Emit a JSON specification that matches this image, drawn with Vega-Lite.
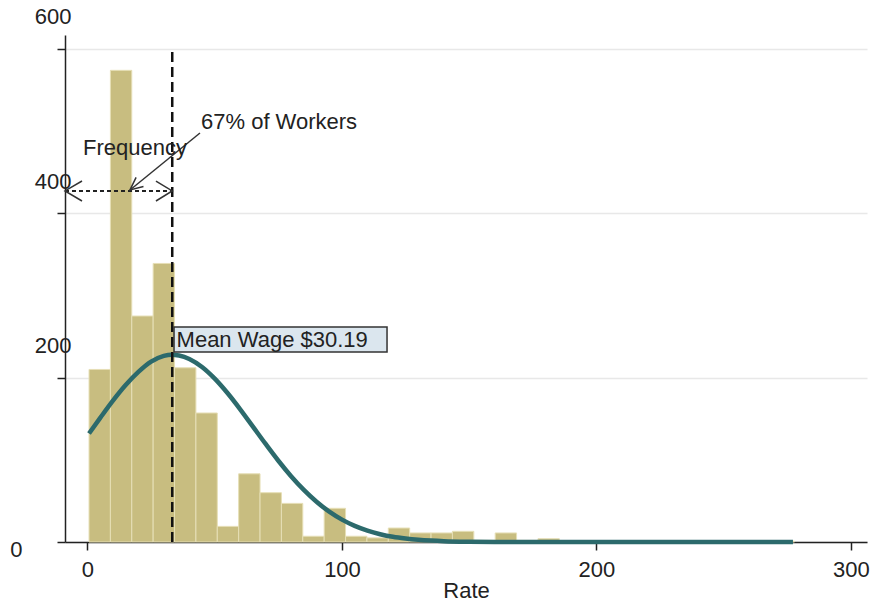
{
  "$schema": "https://vega.github.io/schema/vega-lite/v6.json",
  "autosize": "none",
  "width": 802,
  "height": 507,
  "padding": {"left": 65, "top": 35, "right": 4, "bottom": 64},
  "background": "white",
  "config": {
    "view": {"stroke": null},
    "font": "Liberation Sans",
    "axis": {"labelFont": "Liberation Sans", "titleFont": "Liberation Sans", "labelColor": "#222", "titleColor": "#222", "domainColor": "#222", "tickColor": "#222", "domainWidth": 1.5, "tickWidth": 1.5}
  },
  "datasets": {
    "hist": [
      {"lo": 0.6, "hi": 9.0, "count": 210},
      {"lo": 9.0, "hi": 17.4, "count": 574},
      {"lo": 17.4, "hi": 25.8, "count": 275},
      {"lo": 25.8, "hi": 34.2, "count": 339},
      {"lo": 34.2, "hi": 42.6, "count": 212},
      {"lo": 42.6, "hi": 51.0, "count": 157},
      {"lo": 51.0, "hi": 59.4, "count": 19},
      {"lo": 59.4, "hi": 67.8, "count": 83},
      {"lo": 67.8, "hi": 76.2, "count": 60},
      {"lo": 76.2, "hi": 84.6, "count": 47},
      {"lo": 84.6, "hi": 93.0, "count": 7},
      {"lo": 93.0, "hi": 101.4, "count": 41},
      {"lo": 101.4, "hi": 109.8, "count": 7},
      {"lo": 109.8, "hi": 118.2, "count": 5},
      {"lo": 118.2, "hi": 126.6, "count": 17},
      {"lo": 126.6, "hi": 135.0, "count": 11},
      {"lo": 135.0, "hi": 143.4, "count": 11},
      {"lo": 143.4, "hi": 151.8, "count": 13},
      {"lo": 151.8, "hi": 160.2, "count": 2},
      {"lo": 160.2, "hi": 168.6, "count": 11},
      {"lo": 168.6, "hi": 177.0, "count": 2},
      {"lo": 177.0, "hi": 185.4, "count": 4},
      {"lo": 185.4, "hi": 193.8, "count": 1},
      {"lo": 193.8, "hi": 202.2, "count": 1},
      {"lo": 210.6, "hi": 219.0, "count": 1},
      {"lo": 227.4, "hi": 235.8, "count": 1},
      {"lo": 252.6, "hi": 261.0, "count": 1},
      {"lo": 269.4, "hi": 277.8, "count": 1}
    ],
    "curve": [
      {"rate": 0.6, "freq": 132},
      {"rate": 5, "freq": 151},
      {"rate": 10, "freq": 172},
      {"rate": 15, "freq": 191},
      {"rate": 20, "freq": 207},
      {"rate": 25, "freq": 219.5},
      {"rate": 30, "freq": 226.5},
      {"rate": 33, "freq": 228.0},
      {"rate": 36, "freq": 227.0},
      {"rate": 40, "freq": 222.8},
      {"rate": 45, "freq": 213.0},
      {"rate": 50, "freq": 198.8},
      {"rate": 55, "freq": 181.3},
      {"rate": 60, "freq": 161.5},
      {"rate": 65, "freq": 140.4},
      {"rate": 70, "freq": 119.3},
      {"rate": 75, "freq": 98.9},
      {"rate": 80, "freq": 80.1},
      {"rate": 85, "freq": 63.4},
      {"rate": 90, "freq": 49.0},
      {"rate": 95, "freq": 36.9},
      {"rate": 100, "freq": 27.2},
      {"rate": 105, "freq": 19.6},
      {"rate": 110, "freq": 13.8},
      {"rate": 115, "freq": 9.5},
      {"rate": 120, "freq": 6.3},
      {"rate": 125, "freq": 4.2},
      {"rate": 130, "freq": 2.7},
      {"rate": 135, "freq": 1.7},
      {"rate": 140, "freq": 1.0},
      {"rate": 150, "freq": 0.35},
      {"rate": 160, "freq": 0.1},
      {"rate": 180, "freq": 0},
      {"rate": 277.2, "freq": 0}
    ],
    "arrows": [
      {"seg": "lh", "ord": 1, "x": -2.16, "y": 439.3},
      {"seg": "lh", "ord": 2, "x": -8.84, "y": 427.2},
      {"seg": "lh", "ord": 3, "x": -2.16, "y": 415.0},
      {"seg": "rh", "ord": 1, "x": 26.9, "y": 439.3},
      {"seg": "rh", "ord": 2, "x": 33.3, "y": 427.2},
      {"seg": "rh", "ord": 3, "x": 26.9, "y": 415.0},
      {"seg": "ps", "ord": 1, "x": 44.2, "y": 497.7},
      {"seg": "ps", "ord": 2, "x": 16.7, "y": 428.4},
      {"seg": "ph", "ord": 1, "x": 22.0, "y": 432.6},
      {"seg": "ph", "ord": 2, "x": 16.7, "y": 428.4},
      {"seg": "ph", "ord": 3, "x": 19.1, "y": 443.7}
    ],
    "labels": [
      {"x": -1.77, "y": 471.0, "label": "Frequency"},
      {"x": 44.6, "y": 502.6, "label": "67% of Workers"},
      {"x": 35.0, "y": 237.3, "label": "Mean Wage $30.19"}
    ]
  },
  "layer": [
    {
      "data": {"name": "hist"},
      "mark": {"type": "bar", "color": "#c8bd80", "stroke": "#e6dfb6", "strokeWidth": 1},
      "encoding": {
        "x": {"field": "lo", "type": "quantitative",
          "scale": {"domain": [-8.84, 306.3], "nice": false, "zero": false},
          "axis": {"values": [0, 100, 200, 300], "title": "Rate", "titleFontSize": 22, "titleFontWeight": "normal", "titlePadding": 0, "labelFontSize": 22, "tickSize": 8, "labelPadding": 9, "grid": false, "labelFlush": false}},
        "x2": {"field": "hi"},
        "y": {"field": "count", "type": "quantitative",
          "scale": {"domain": [0, 617], "nice": false},
          "axis": {"values": [0, 200, 400, 600], "title": null, "labelFontSize": 22, "tickSize": 8, "grid": true, "gridColor": "#e8e8e8", "gridWidth": 1.5,
            "labelOffset": {"condition": {"test": "datum.value == 0", "value": 7}, "value": -32},
            "labelPadding": {"condition": {"test": "datum.value == 0", "value": 35}, "value": -14}}},
        "y2": {"datum": 0}
      }
    },
    {
      "data": {"name": "curve"},
      "mark": {"type": "line", "color": "#2c6a6c", "strokeWidth": 4.5, "interpolate": "monotone"},
      "encoding": {
        "x": {"field": "rate", "type": "quantitative"},
        "y": {"field": "freq", "type": "quantitative"}
      }
    },
    {
      "data": {"values": [{"x": 33.3, "y": 0, "y2": 598}]},
      "mark": {"type": "rule", "color": "#111", "strokeWidth": 2.5, "strokeDash": [10, 5]},
      "encoding": {
        "x": {"field": "x", "type": "quantitative"},
        "y": {"field": "y", "type": "quantitative"},
        "y2": {"field": "y2"}
      }
    },
    {
      "data": {"values": [{"x": -8.84, "x2": 33.3, "y": 427.2}]},
      "mark": {"type": "rule", "color": "#222", "strokeWidth": 2, "strokeDash": [4, 3]},
      "encoding": {
        "x": {"field": "x", "type": "quantitative"},
        "x2": {"field": "x2"},
        "y": {"field": "y", "type": "quantitative"}
      }
    },
    {
      "data": {"name": "arrows"},
      "mark": {"type": "line", "color": "#333", "strokeWidth": 1.5},
      "encoding": {
        "x": {"field": "x", "type": "quantitative"},
        "y": {"field": "y", "type": "quantitative"},
        "detail": {"field": "seg"},
        "order": {"field": "ord"}
      }
    },
    {
      "data": {"values": [{"x": 34.0, "x2": 117.7, "y": 261.7, "y2": 231.2}]},
      "mark": {"type": "rect", "fill": "#dbe6ee", "stroke": "#333", "strokeWidth": 1.5},
      "encoding": {
        "x": {"field": "x", "type": "quantitative"},
        "x2": {"field": "x2"},
        "y": {"field": "y", "type": "quantitative"},
        "y2": {"field": "y2"}
      }
    },
    {
      "data": {"name": "labels"},
      "mark": {"type": "text", "align": "left", "baseline": "alphabetic", "fontSize": 22, "color": "#222", "font": "Liberation Sans"},
      "encoding": {
        "x": {"field": "x", "type": "quantitative"},
        "y": {"field": "y", "type": "quantitative"},
        "text": {"field": "label"}
      }
    }
  ]
}
